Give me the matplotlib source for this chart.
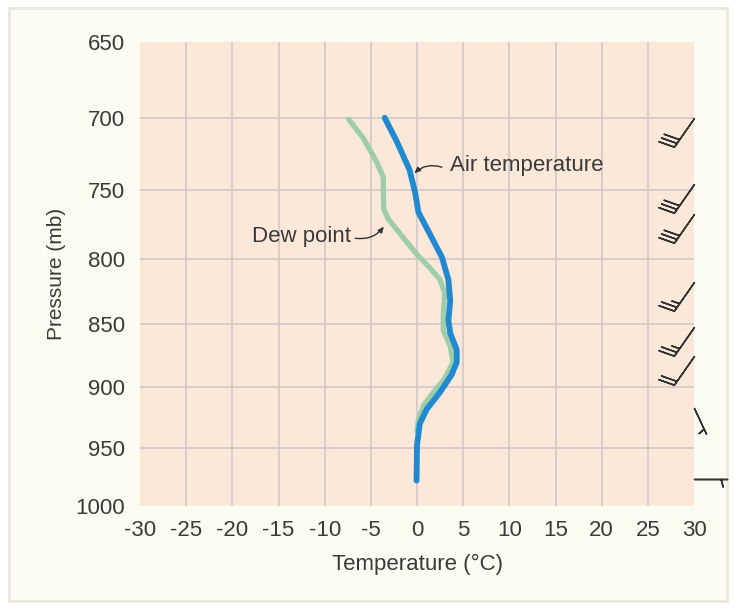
import numpy as np
import matplotlib
matplotlib.use('Agg')
import matplotlib.pyplot as plt
from matplotlib.patches import FancyBboxPatch

# sounding
air_p = [700, 716, 736, 752, 766, 782, 799, 816, 832, 847, 857, 870, 880, 890, 904, 918, 930, 948, 978]
air_t = [-3.5, -2.2, -0.8, -0.2, 0.15, 1.4, 2.7, 3.4, 3.6, 3.4, 3.6, 4.3, 4.3, 3.75, 2.5, 1.05, 0.3, 0.0, -0.05]

dew_p = [701, 714, 730, 741, 750, 764, 771, 782, 797, 807, 816, 826, 842, 855, 867, 880, 893, 904, 915, 927, 936]
dew_t = [-7.4, -5.8, -4.4, -3.65, -3.65, -3.6, -3.1, -1.8, 0.0, 1.4, 2.5, 3.0, 2.85, 2.85, 3.6, 3.9, 3.0, 1.8, 0.7, 0.15, 0.0]

# winds: pressure level, direction (deg, from), speed (knots)
wind_p = [700, 746, 767, 818, 852, 875, 917, 977]
wind_dir = [215, 215, 215, 215, 215, 215, 155, 90]
wind_kt = [30, 30, 30, 25, 25, 20, 5, 5]

p_ticks = [650, 700, 750, 800, 850, 900, 950, 1000]
t_ticks = list(range(-30, 31, 5))

plt.rcParams['font.family'] = ['Liberation Sans', 'DejaVu Sans']
plt.rcParams['axes.unicode_minus'] = False

txt = '#3a3a3a'
fig = plt.figure(figsize=(7.35, 6.11), dpi=100, facecolor='white')
card = FancyBboxPatch((9 / 735, 1 - 601 / 611), 718 / 735, 593 / 611,
                      boxstyle='square,pad=0', transform=fig.transFigure,
                      facecolor='#FDFCF2', edgecolor='#EAE8E0', lw=2, zorder=-10)
fig.patches.append(card)

ax = fig.add_axes([140 / 735, 105 / 611, 554 / 735, 464 / 611])
ax.set_facecolor('#FBE8D8')
for s in ax.spines.values():
    s.set_visible(False)

# pressure axis ~ p^0.286 (Stuve style)
k = 0.286
ax.set_yscale('function', functions=(lambda p: np.power(p, k), lambda s: np.power(s, 1 / k)))
ax.set_ylim(1000, 650)
ax.set_xlim(-30, 30)
ax.set_yticks(p_ticks)
ax.set_xticks(t_ticks)
ax.set_yticklabels([str(p) for p in p_ticks])
ax.set_xticklabels([str(t) for t in t_ticks])
ax.tick_params(length=0, labelsize=16, labelcolor=txt)
ax.tick_params(axis='y', pad=11)
ax.tick_params(axis='x', pad=10)

ax.grid(True, color='#D3C8CA', lw=1.2)
ax.set_axisbelow(True)
for gl in (ax.xaxis.get_gridlines(), ax.yaxis.get_gridlines()):
    gl[0].set_visible(False)
    gl[-1].set_visible(False)

ax.set_xlabel('Temperature (°C)', fontsize=16, color=txt)
ax.set_ylabel('Pressure (mb)', fontsize=15, color=txt)
ax.xaxis.set_label_coords(0.5, -0.103)
ax.yaxis.set_label_coords(-0.133, 0.5)

ax.plot(dew_t, dew_p, color='#9ECDA9', lw=3.8, solid_capstyle='round', solid_joinstyle='round', zorder=3)
ax.plot(air_t, air_p, color='#2189D0', lw=4.2, solid_capstyle='round', solid_joinstyle='round', zorder=4)

# labels with small curved pointers
arrow = dict(arrowstyle='-|>,head_length=0.35,head_width=0.15', color='#333333',
             lw=1, shrinkA=0, shrinkB=1, connectionstyle='arc3,rad=0.3')
ax.text(3.6, 733, 'Air temperature', fontsize=16, color=txt, ha='left', va='center')
ax.annotate('', xy=(-0.4, 739), xytext=(2.7, 734), arrowprops=arrow)
ax.text(-7.1, 784, 'Dew point', fontsize=16, color=txt, ha='right', va='center')
ax.annotate('', xy=(-3.5, 775.6), xytext=(-6.7, 785), arrowprops=arrow)

# wind barbs on the right edge
rad = np.deg2rad(wind_dir)
u = -np.array(wind_kt) * np.sin(rad)
v = -np.array(wind_kt) * np.cos(rad)
blen = [7.1, 7.1, 7.1, 7.1, 7.1, 7.1, 6.4, 6.9]
for i in range(len(wind_p)):
    ax.barbs([30], [wind_p[i]], [u[i]], [v[i]], length=blen[i], clip_on=False,
             color='#333333', lw=1.1, zorder=5,
             sizes=dict(spacing=0.13, height=0.45, width=0.25))

fig.savefig('out.png', dpi=100, facecolor=fig.get_facecolor())
